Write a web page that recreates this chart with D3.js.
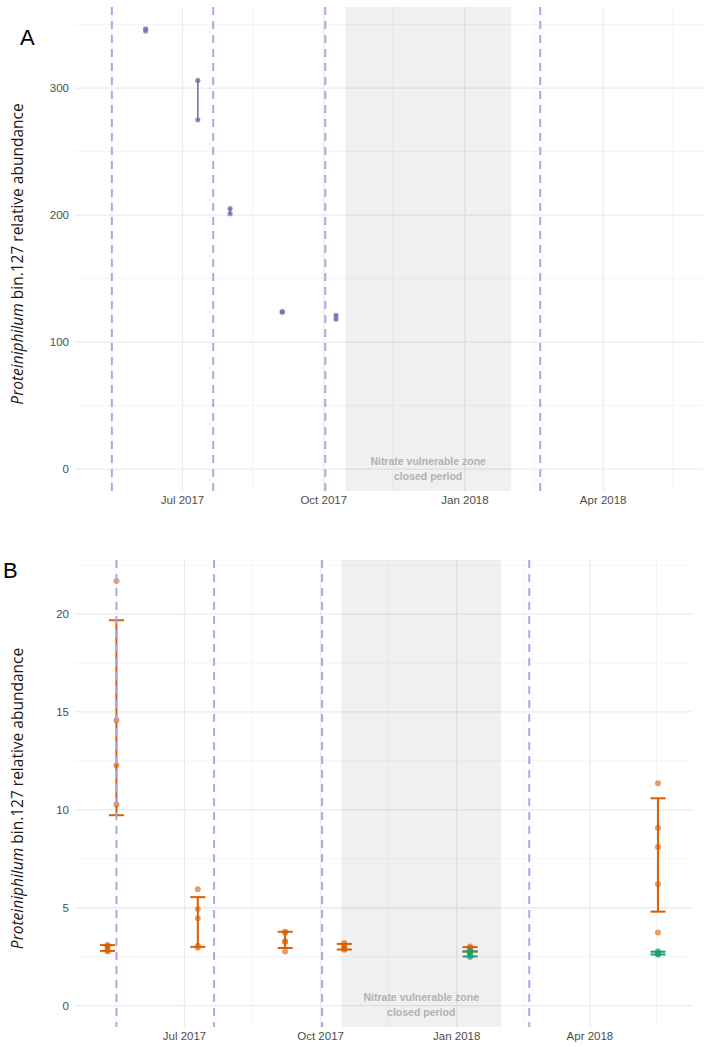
<!DOCTYPE html>
<html>
<head>
<meta charset="utf-8">
<script src="https://cdn.jsdelivr.net/npm/d3@7"></script>
<style>
    body { margin: 0; background: #fff; }
    svg { display: block; font-family: "Liberation Sans", Arial, sans-serif; }
</style>
</head>
<body>
<div id="chart-area"></div>
<script>
// ---- data ----
// panel A : purple samples
var aDates = ["2017-06-07", "2017-07-11", "2017-08-01", "2017-09-04", "2017-10-09"];
var aValues = [[346.5, 345], [306, 275], [205, 201], [124, 123.5], [121, 118]];

// panel B : orange samples
var bOrangeDates = ["2017-05-10", "2017-05-16", "2017-07-10", "2017-09-07", "2017-10-17", "2018-01-10", "2018-05-17"];
var bOrangeValues = [
    [3.1, 3.05, 3.0, 2.82, 2.76],
    [21.69, 14.58, 12.28, 10.27],
    [5.94, 4.94, 4.46, 3.06, 2.96],
    [3.78, 3.72, 3.29, 3.25, 2.76],
    [3.2, 3.1, 3.0, 2.9, 2.85],
    [3.02, 2.95, 2.88, 2.8, 2.74],
    [11.36, 9.09, 8.1, 6.2, 3.73]
];
// panel B : green samples
var bGreenDates = ["2018-01-10", "2018-05-17"];
var bGreenValues = [
    [2.8, 2.72, 2.65, 2.55, 2.48],
    [2.78, 2.72, 2.68, 2.64, 2.6]
];

// events (dashed lines) and closed period
var eventDates = ["2017-05-16", "2017-07-21", "2017-10-02", "2018-02-19"];
var closedPeriod = ["2017-10-15", "2018-01-31"];
var closedLabel = ["Nitrate vulnerable zone", "closed period"];

var xTicks = ["2017-07-01", "2017-10-01", "2018-01-01", "2018-04-01"];
var xMinorTicks = ["2017-05-16", "2017-08-16", "2017-11-15", "2018-02-15", "2018-05-16"];
var aYTicks = [0, 100, 200, 300];
var aYMinor = [50, 150, 250, 350];
var bYTicks = [0, 5, 10, 15, 20];
var bYMinor = [2.5, 7.5, 12.5, 17.5, 22.5];

var parseDate = d3.timeParse("%Y-%m-%d");
var formatTick = d3.timeFormat("%b %Y");

var svg = d3.select("#chart-area").append("svg")
    .attr("width", 709)
    .attr("height", 1047);

Panel = function(opts) {
    var vis = this;
    vis.opts = opts;
    vis.initVis();
}

Panel.prototype.initVis = function() {
    var vis = this;
    var o = vis.opts;

    vis.g = svg.append("g");

    vis.x = d3.scaleTime()
        .domain([parseDate(o.xDomain[0]), parseDate(o.xDomain[1])])
        .range([o.left, o.right]);

    vis.y = d3.scaleLinear()
        .domain(o.yDomain)
        .range([o.bottom, o.top]);

    // minor grid
    vis.g.selectAll(".hMinor").data(o.yMinor).enter().append("line")
        .attr("x1", o.left).attr("x2", o.right)
        .attr("y1", d => vis.y(d)).attr("y2", d => vis.y(d))
        .attr("stroke", "#f2f2f2").attr("stroke-width", 0.8);
    vis.g.selectAll(".vMinor").data(xMinorTicks).enter().append("line")
        .attr("x1", d => vis.x(parseDate(d))).attr("x2", d => vis.x(parseDate(d)))
        .attr("y1", o.top).attr("y2", o.bottom)
        .attr("stroke", "#f2f2f2").attr("stroke-width", 0.8);

    // major grid
    vis.g.selectAll(".hMajor").data(o.yTicks).enter().append("line")
        .attr("x1", o.left).attr("x2", o.right)
        .attr("y1", d => vis.y(d)).attr("y2", d => vis.y(d))
        .attr("stroke", "#ebebeb").attr("stroke-width", 1.3);
    vis.g.selectAll(".vMajor").data(xTicks).enter().append("line")
        .attr("x1", d => vis.x(parseDate(d))).attr("x2", d => vis.x(parseDate(d)))
        .attr("y1", o.top).attr("y2", o.bottom)
        .attr("stroke", "#ebebeb").attr("stroke-width", 1.3);

    // closed period shading
    vis.g.append("rect")
        .attr("x", vis.x(parseDate(closedPeriod[0])))
        .attr("y", o.top)
        .attr("width", vis.x(parseDate(closedPeriod[1])) - vis.x(parseDate(closedPeriod[0])))
        .attr("height", o.bottom - o.top)
        .attr("fill", "#000")
        .attr("fill-opacity", 0.058);

    var midX = (vis.x(parseDate(closedPeriod[0])) + vis.x(parseDate(closedPeriod[1]))) / 2;
    vis.g.selectAll(".closedText").data(closedLabel).enter().append("text")
        .attr("x", midX)
        .attr("y", (d, i) => o.bottom - 26 + i * 15)
        .attr("text-anchor", "middle")
        .attr("font-size", 10.5)
        .attr("font-weight", "bold")
        .attr("fill", "#b0b0b0")
        .text(d => d);

    // axes labels (no axis lines, ggplot minimal)
    vis.g.selectAll(".xLab").data(xTicks).enter().append("text")
        .attr("x", d => vis.x(parseDate(d)))
        .attr("y", o.bottom + 13)
        .attr("text-anchor", "middle")
        .attr("font-size", 11.5)
        .attr("fill", "#4d4d4d")
        .text(d => formatTick(parseDate(d)));

    vis.g.selectAll(".yLab").data(o.yTicks).enter().append("text")
        .attr("x", o.left - 6)
        .attr("y", d => vis.y(d))
        .attr("dy", "0.35em")
        .attr("text-anchor", "end")
        .attr("font-size", 11.5)
        .attr("fill", "#4d4d4d")
        .text(d => d);

    var title = vis.g.append("text")
        .attr("transform", "translate(23," + ((o.top + o.bottom) / 2 + 5) + ") rotate(-90)")
        .attr("text-anchor", "middle")
        .attr("font-family", "'Open Sans', sans-serif")
        .attr("font-size", 15.5)
        .attr("fill", "#1a1a1a");
    title.append("tspan").attr("font-style", "italic").text("Proteiniphilum");
    title.append("tspan").text(" bin.127 relative abundance");

    vis.g.append("text")
        .attr("x", o.tagX).attr("y", o.tagY)
        .attr("font-size", 22)
        .attr("fill", "#000")
        .text(o.tag);
}

Panel.prototype.drawSeries = function(dates, values, color, opts) {
    var vis = this;
    var data = dates.map(function(d, i) {
        var v = values[i];
        var mean = d3.mean(v);
        var sd = d3.deviation(v);
        var lo, hi;
        if (opts.range) {
            lo = d3.min(v); hi = d3.max(v);
        } else {
            lo = mean - sd; hi = mean + sd;
        }
        return { date: parseDate(d), values: v, lo: lo, hi: hi };
    });

    var grp = vis.g.selectAll(".series-" + opts.key).data(data).enter().append("g");

    grp.append("line")
        .attr("x1", d => vis.x(d.date)).attr("x2", d => vis.x(d.date))
        .attr("y1", d => vis.y(d.lo)).attr("y2", d => vis.y(d.hi))
        .attr("stroke", color).attr("stroke-width", opts.lineWidth);

    ["lo", "hi"].forEach(function(k) {
        grp.append("line")
            .attr("x1", d => vis.x(d.date) - opts.cap).attr("x2", d => vis.x(d.date) + opts.cap)
            .attr("y1", d => vis.y(d[k])).attr("y2", d => vis.y(d[k]))
            .attr("stroke", color).attr("stroke-width", opts.lineWidth);
    });

    grp.selectAll("circle")
        .data(d => d.values.map(v => ({ date: d.date, v: v })))
        .enter().append("circle")
        .attr("cx", d => vis.x(d.date))
        .attr("cy", d => vis.y(d.v))
        .attr("r", opts.r)
        .attr("fill", color)
        .attr("fill-opacity", opts.alpha);
}

Panel.prototype.drawEvents = function() {
    var vis = this;
    var o = vis.opts;
    vis.g.selectAll(".event").data(eventDates).enter().append("line")
        .attr("x1", d => vis.x(parseDate(d))).attr("x2", d => vis.x(parseDate(d)))
        .attr("y1", o.top).attr("y2", o.bottom)
        .attr("stroke", "#aea6e2")
        .attr("stroke-width", 2)
        .attr("stroke-dasharray", "8,6");
}

var panelA = new Panel({
    tag: "A", tagX: 20, tagY: 45,
    left: 75, right: 703, top: 7, bottom: 491,
    xDomain: ["2017-04-22", "2018-06-05"],
    yDomain: [-17.3, 363.8],
    yTicks: aYTicks, yMinor: aYMinor
});
panelA.drawSeries(aDates, aValues, "#7570b3", { key: "a", range: true, cap: 1.5, lineWidth: 1.6, r: 2.6, alpha: 0.75 });
panelA.drawEvents();

var panelB = new Panel({
    tag: "B", tagX: 3, tagY: 578,
    left: 75, right: 692, top: 560, bottom: 1027,
    xDomain: ["2017-04-18", "2018-06-09"],
    yDomain: [-1.09, 22.76],
    yTicks: bYTicks, yMinor: bYMinor
});
panelB.drawSeries(bOrangeDates, bOrangeValues, "#d95f02", { key: "o", range: false, cap: 7.5, lineWidth: 2, r: 3, alpha: 0.6 });
panelB.drawSeries(bGreenDates, bGreenValues, "#1b9e77", { key: "g", range: false, cap: 7.5, lineWidth: 2, r: 3, alpha: 0.6 });
panelB.drawEvents();
</script>
</body>
</html>
